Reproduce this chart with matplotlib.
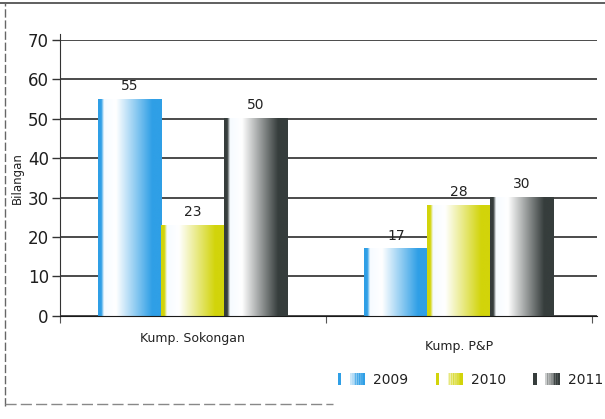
import matplotlib
matplotlib.use("Agg")
import matplotlib.pyplot as plt
import numpy as np
from matplotlib.colors import LinearSegmentedColormap
from matplotlib.patches import Rectangle
from matplotlib.legend_handler import HandlerBase

categories = ["Kump. Sokongan", "Kump. P&P"]
years = ["2009", "2010", "2011"]
v2009 = [55, 17]
v2010 = [23, 28]
v2011 = [50, 30]
series = [v2009, v2010, v2011]
yticks = [0, 10, 20, 30, 40, 50, 60, 70]

colors = ["#2f9fe6", "#d2d40a", "#363d3c"]


def make_cmap(c):
    return LinearSegmentedColormap.from_list(
        "g", [(0.0, c), (0.05, c), (0.09, "#f6fbff"), (0.28, "#ffffff"),
              (0.85, c), (1.0, c)])


class GradHandler(HandlerBase):
    def __init__(self, color):
        super().__init__()
        self.color = color

    def create_artists(self, legend, orig_handle, x0, y0, width, height,
                       fontsize, trans):
        arts = []
        arts.append(Rectangle((x0, y0 - 1), width * 0.12, height + 2,
                              facecolor=self.color, lw=0, transform=trans))
        n = 8
        for i in range(n):
            a = 0.25 + 0.75 * i / (n - 1)
            arts.append(Rectangle((x0 + width * (0.45 + 0.55 * i / n), y0 - 1),
                                  width * 0.55 / n + 0.3, height + 2,
                                  facecolor=self.color, alpha=a, lw=0,
                                  transform=trans))
        return arts


fig = plt.figure(figsize=(6.05, 4.19), dpi=100)
ax = fig.add_axes([0.099, 0.246, 0.888, 0.659])

bar_w = 0.237
x = np.arange(len(categories))
grad = np.linspace(0, 1, 200).reshape(1, -1)
for i, vals in enumerate(series):
    cmap = make_cmap(colors[i])
    for j, v in enumerate(vals):
        x0 = x[j] + (i - 1) * bar_w - bar_w / 2
        ax.imshow(grad, extent=[x0, x0 + bar_w, 0, v], aspect="auto",
                  cmap=cmap, zorder=2, interpolation="bilinear")
        ax.text(x0 + bar_w / 2, v + 1.6, str(v), ha="center", va="bottom",
                fontsize=10, color="#222222", zorder=3)

ax.set_xlim(-0.5, 1.52)
ax.set_ylim(0, 70)
ax.set_yticks(yticks)
ax.set_yticklabels([str(t) for t in yticks], fontsize=12, color="#1e1e1e")
ax.yaxis.grid(True, color="#1a1a1a", lw=1.1)
ax.set_axisbelow(True)
ax.tick_params(axis="y", length=6, width=1, color="#333333", pad=2)

ax.set_xticks([-0.5, 0.5, 1.5])
ax.set_xticklabels(["", "", ""])
ax.tick_params(axis="x", length=5, width=0.8, color="#555555")
for j, c in enumerate(categories):
    ax.text(x[j], -4.0 if j == 0 else -6.0, c, ha="center", va="top",
            fontsize=9, color="#222222")

ax.set_ylabel("Bilangan", fontsize=8.5, color="#222222", labelpad=3)
for s in ["top", "right"]:
    ax.spines[s].set_visible(False)
ax.spines["left"].set_color("#333333")
ax.spines["bottom"].set_color("#1a1a1a")
ax.spines["left"].set_bounds(0, 71.5)

handles = [Rectangle((0, 0), 1, 1) for _ in years]
leg = fig.legend(handles, years, ncol=3, loc="center right",
                 bbox_to_anchor=(1.018, 0.093), frameon=False, fontsize=10,
                 handlelength=1.9, handletextpad=0.6, columnspacing=2.0,
                 handler_map={h: GradHandler(c) for h, c in zip(handles, colors)})
for t in leg.get_texts():
    t.set_color("#222222")

# scanned page frame
fig.add_artist(plt.Line2D([0.0, 1.0], [0.992, 0.992], color="#444444", lw=1.2))
fig.add_artist(plt.Line2D([0.009, 0.009], [0.03, 0.992], color="#666666", lw=1,
                          ls=(0, (6, 2))))
fig.add_artist(plt.Line2D([0.009, 0.55], [0.035, 0.035], color="#888888", lw=1,
                          ls=(0, (8, 3))))

fig.savefig("out.png", dpi=100)
